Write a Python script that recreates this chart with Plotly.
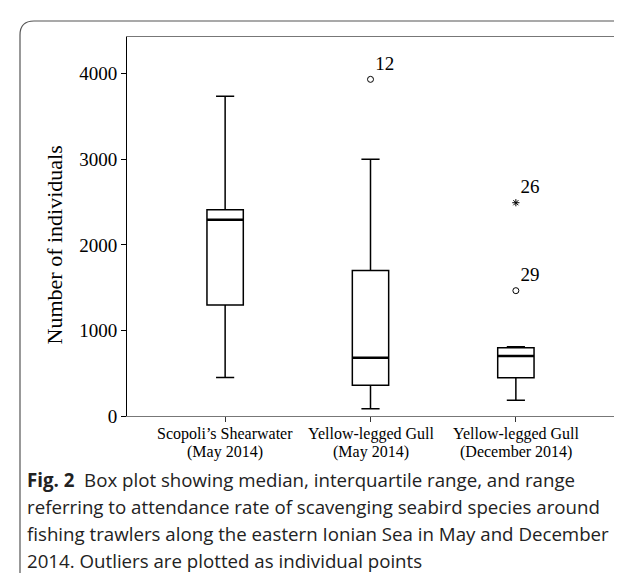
import plotly.graph_objects as go

# ---- data ----
category_names = ["Scopoli’s Shearwater", "Yellow-legged Gull", "Yellow-legged Gull"]
category_periods = ["(May 2014)", "(May 2014)", "(December 2014)"]
categories = [f"{n} {p}" for n, p in zip(category_names, category_periods)]
lower_whisker = [450, 85, 185]
q1 = [1297, 358, 448]
median = [2294, 681, 701]
q3 = [2411, 1702, 798]
upper_whisker = [3736, 3000, 810]

circle_outlier_cat = [categories[1], categories[2]]
circle_outlier_val = [3935, 1465]
circle_outlier_lbl = ["12", "29"]
star_outlier_cat = [categories[2]]
star_outlier_val = [2493]
star_outlier_lbl = ["26"]

y_ticks = [0, 1000, 2000, 3000, 4000]
y_title = "Number of individuals"
caption_lines = [
    "<b>Fig. 2</b>  Box plot showing median, interquartile range, and range",
    "referring to attendance rate of scavenging seabird species around",
    "fishing trawlers along the eastern Ionian Sea in May and December",
    "2014. Outliers are plotted as individual points",
]

SERIF = "Liberation Serif, Times New Roman, serif"
SANS = "Open Sans, Noto Sans, sans-serif"

W, H = 622, 573
ML, MR, MT, MB = 119, 16, 29, 165

fig = go.Figure()

fig.add_trace(go.Box(
    x=categories, q1=q1, median=median, q3=q3,
    lowerfence=lower_whisker, upperfence=upper_whisker,
    width=0.25, whiskerwidth=0.5, boxpoints=False,
    fillcolor="white", line=dict(color="black", width=1.5),
    showlegend=False, hoverinfo="skip",
))
# thicker median line
fig.add_trace(go.Box(
    x=categories, q1=median, median=median, q3=median,
    lowerfence=median, upperfence=median,
    width=0.25, whiskerwidth=0.5, boxpoints=False,
    fillcolor="rgba(0,0,0,0)", line=dict(color="black", width=2.5),
    showlegend=False, hoverinfo="skip",
))

fig.add_trace(go.Scatter(
    x=circle_outlier_cat, y=circle_outlier_val, mode="markers+text",
    marker=dict(symbol="circle-open", size=6, color="black", line=dict(width=1)),
    text=circle_outlier_lbl, textposition="top right",
    textfont=dict(family=SERIF, size=19, color="black"),
    showlegend=False, hoverinfo="skip", cliponaxis=False,
))
fig.add_trace(go.Scatter(
    x=star_outlier_cat, y=star_outlier_val, mode="markers+text",
    marker=dict(symbol="asterisk-open", size=6, color="black", line=dict(width=1, color="black")),
    text=star_outlier_lbl, textposition="top right",
    textfont=dict(family=SERIF, size=19, color="black"),
    showlegend=False, hoverinfo="skip", cliponaxis=False,
))

# pixel -> paper helpers
pw = W - ML - MR
ph = H - MT - MB
def px(x):
    return (x - ML) / pw
def py(y):
    return (H - MB - y) / ph

# outer rounded frame (decoration)
r = 14
x0, y0, x1, y1 = 12, 13, 660, 590
path = (f"M {px(x0)},{py(y1)} L {px(x0)},{py(y0 + r)} "
        f"Q {px(x0)},{py(y0)} {px(x0 + r)},{py(y0)} "
        f"L {px(x1)},{py(y0)}")
fig.add_shape(type="path", xref="paper", yref="paper", path=path,
              line=dict(color="#555555", width=1.2))

# two-line category labels
for cat, name, period in zip(categories, category_names, category_periods):
    for txt, shift in ((name, -18), (period, -36)):
        fig.add_annotation(
            x=cat, xref="x", y=0, yref="paper", yshift=shift,
            text=txt, showarrow=False, xanchor="center", yanchor="middle",
            font=dict(family=SERIF, size=16, color="black"),
        )

# y-axis title
fig.add_annotation(
    xref="paper", yref="paper", x=px(46), y=0.45, text=y_title,
    textangle=-90, showarrow=False, xanchor="center", yanchor="middle",
    font=dict(family=SERIF, size=22, color="black"),
)

for i, line in enumerate(caption_lines):
    fig.add_annotation(
        xref="paper", yref="paper", x=px(17), y=py(471 + 27 * i),
        text=line, showarrow=False, xanchor="left", yanchor="middle",
        font=dict(family=SANS, size=18.7, color="#222222"), align="left",
    )

fig.update_layout(
    width=W, height=H,
    margin=dict(l=ML, r=MR, t=MT, b=MB),
    paper_bgcolor="white", plot_bgcolor="white",
    boxmode="overlay",
    xaxis=dict(
        type="category", range=[-0.675, 2.675],
        showline=True, linecolor="#777777", linewidth=1, mirror=True,
        ticks="outside", ticklen=5, tickcolor="#333333",
        showticklabels=False,
        showgrid=False, zeroline=False,
    ),
    yaxis=dict(
        range=[0, 4430], tickvals=y_ticks,
        showline=True, linecolor="black", linewidth=1, mirror=True,
        ticks="outside", ticklen=5, tickcolor="black",
        tickfont=dict(family=SERIF, size=19, color="black"),
        showgrid=False, zeroline=False,
    ),
)

fig.write_html("out.html")
